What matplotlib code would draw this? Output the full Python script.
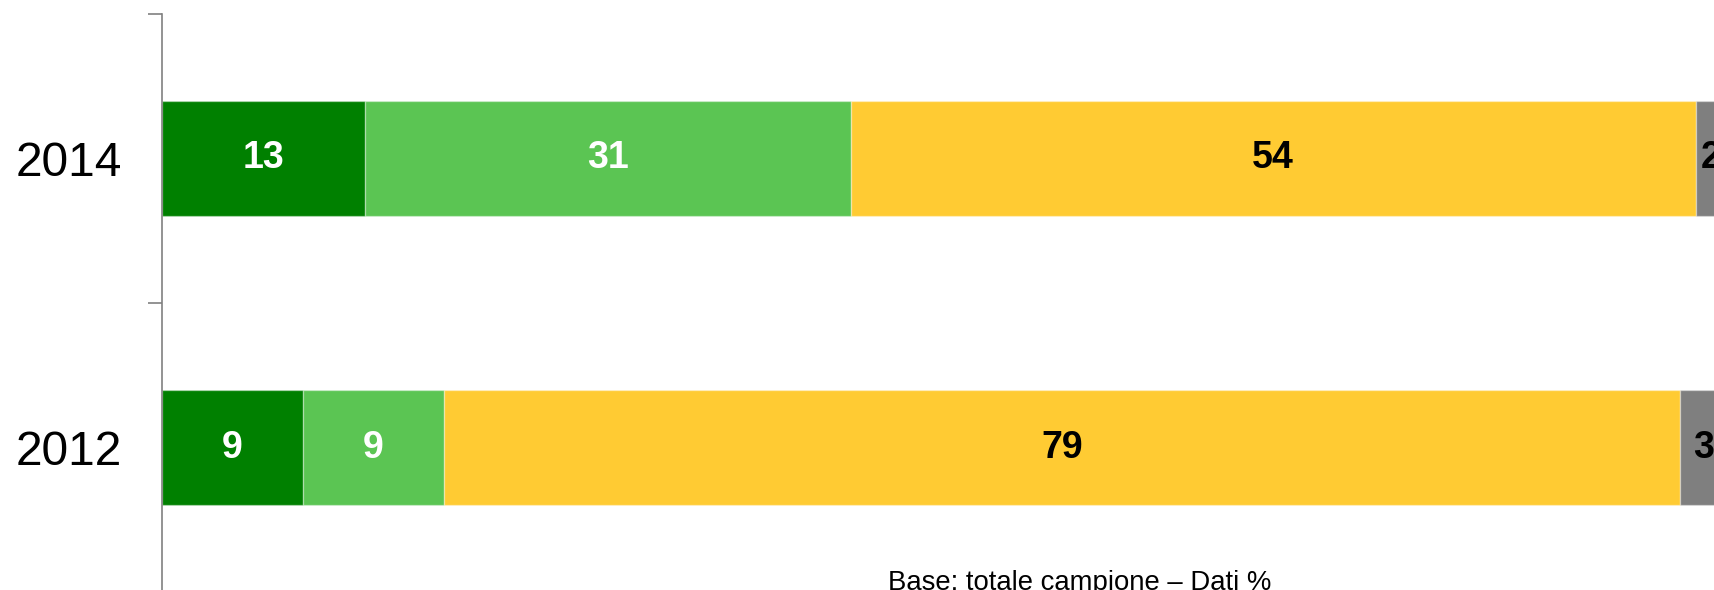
import numpy as np
import matplotlib
matplotlib.use("Agg")
import matplotlib.pyplot as plt

plt.rcParams['font.family'] = ['Liberation Sans', 'DejaVu Sans']

# Data
years = ['2012', '2014']
seg_2012 = [9, 9, 79, 3]
seg_2014 = [13, 31, 54, 2]
colors = ['#008000', '#5bc553', '#ffcb33', '#7f7f7f']
label_colors = ['white', 'white', 'black', 'black']
note = "Base: totale campione \u2013 Dati %"

data = np.array([seg_2012, seg_2014])

fig = plt.figure(figsize=(17.14, 5.9), dpi=100)
# axes spans beyond the figure on right and bottom (cropped like the original)
ax = fig.add_axes([162 / 1714, -2 / 590, 1565 / 1714, 578 / 590])

y = np.arange(len(years))
left = np.zeros(len(years))
for i in range(data.shape[1]):
    vals = data[:, i]
    ax.barh(y, vals, left=left, height=0.4, color=colors[i],
            edgecolor=(1, 1, 1, 0.35), linewidth=1)
    for j, v in enumerate(vals):
        ax.text(left[j] + v / 2, y[j], str(v), ha='center', va='center',
                color=label_colors[i], fontsize=27, fontweight='bold')
    left += vals

ax.set_xlim(0, 100)
ax.set_ylim(-0.5, 1.5)
ax.set_yticks(y)
ax.set_yticklabels(years, fontsize=34.5)
ax.set_yticks([-0.5, 0.5, 1.5], minor=True)
ax.tick_params(axis='y', which='major', length=0, pad=29)
ax.tick_params(axis='y', which='minor', length=10, width=1.2, color='#808080', direction='out')
ax.set_xticks([])
for s in ['top', 'right', 'bottom']:
    ax.spines[s].set_visible(False)
ax.spines['left'].set_color('#808080')
ax.spines['left'].set_linewidth(1.2)

fig.text(1080 / 1714, 0.0, note, ha='center', va='baseline', fontsize=19.8)

fig.savefig('out.png', dpi=100)
